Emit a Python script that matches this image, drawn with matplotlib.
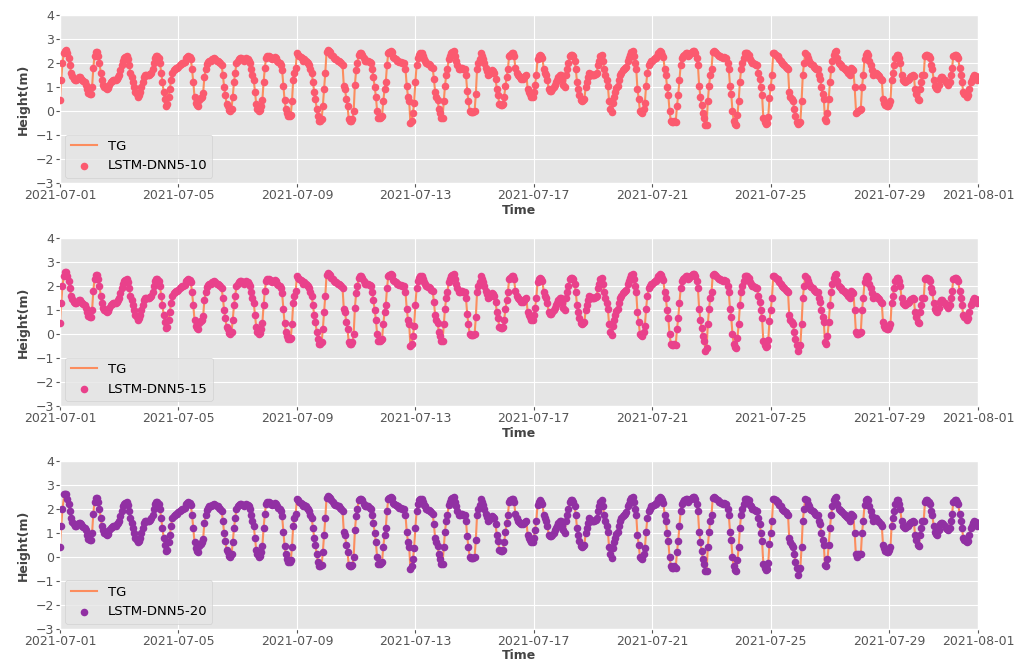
import matplotlib
matplotlib.use("Agg")
import matplotlib.pyplot as plt
import matplotlib.dates as mdates
import pandas as pd

plt.style.use("ggplot")
plt.rcParams["font.family"] = ["DejaVu Sans"]

# Hourly tide-gauge heights (m), 2021-07-01 00:00 .. 2021-07-31 23:00, one row per day
TG = [
    0.4, 1.3, 2.0, 2.4, 2.5, 2.55, 2.4, 2.2, 1.9, 1.6, 1.45, 1.35, 1.3, 1.3, 1.35, 1.4, 1.4, 1.35, 1.3, 1.25, 1.2, 1.1, 0.9, 0.75,
    0.7, 0.7, 1.0, 1.8, 2.3, 2.45, 2.45, 2.3, 2.0, 1.6, 1.3, 1.1, 1.0, 0.95, 0.9, 0.95, 1.1, 1.2, 1.25, 1.3, 1.3, 1.3, 1.35, 1.4,
    1.5, 1.7, 1.9, 2.1, 2.2, 2.25, 2.3, 2.15, 1.9, 1.6, 1.4, 1.2, 1.0, 0.8, 0.7, 0.6, 0.65, 0.8, 1.0, 1.2, 1.4, 1.5, 1.5, 1.5,
    1.5, 1.55, 1.6, 1.75, 2.0, 2.2, 2.3, 2.3, 2.2, 2.0, 1.6, 1.2, 0.8, 0.5, 0.25, 0.3, 0.6, 0.9, 1.3, 1.6, 1.7, 1.75, 1.8, 1.8,
    1.85, 1.9, 1.95, 2.0, 2.0, 2.05, 2.2, 2.25, 2.3, 2.25, 2.15, 1.75, 1.2, 0.6, 0.35, 0.25, 0.2, 0.45, 0.55, 0.6, 0.75, 1.4, 1.75, 1.95,
    2.05, 2.1, 2.1, 2.15, 2.15, 2.2, 2.15, 2.1, 2.1, 2.05, 2.0, 1.9, 1.5, 1.0, 0.65, 0.3, 0.2, 0.05, 0.0, 0.1, 0.6, 1.2, 1.6, 2.0,
    2.1, 2.15, 2.2, 2.2, 2.15, 2.1, 2.15, 2.2, 2.15, 2.1, 2.0, 1.75, 1.5, 1.3, 0.8, 0.3, 0.1, 0.0, 0.05, 0.2, 0.45, 1.2, 1.8, 2.2,
    2.3, 2.3, 2.25, 2.2, 2.15, 2.2, 2.25, 2.2, 2.1, 2.05, 2.0, 1.9, 1.7, 1.05, 0.45, 0.1, -0.1, -0.2, -0.2, -0.15, 0.4, 1.3, 1.6, 1.8,
    2.4, 2.35, 2.3, 2.25, 2.2, 2.1, 2.15, 2.1, 2.05, 2.0, 1.9, 1.75, 1.6, 1.2, 0.8, 0.5, 0.1, -0.2, -0.4, -0.4, -0.35, 0.2, 0.9, 1.6,
    2.45, 2.55, 2.5, 2.45, 2.35, 2.3, 2.2, 2.15, 2.15, 2.1, 2.1, 2.05, 2.0, 1.9, 1.05, 0.9, 0.5, 0.2, -0.35, -0.4, -0.4, -0.35, 0.0, 1.1,
    1.7, 2.0, 2.35, 2.4, 2.4, 2.35, 2.2, 2.1, 2.1, 2.1, 2.1, 2.05, 2.0, 1.75, 1.4, 1.0, 0.6, 0.0, -0.3, -0.3, -0.25, -0.2, 0.4, 0.9,
    1.2, 1.9, 2.4, 2.45, 2.5, 2.45, 2.25, 2.2, 2.15, 2.1, 2.1, 2.05, 2.05, 2.0, 2.0, 2.0, 1.75, 1.05, 0.6, 0.4, -0.5, -0.4, -0.1, 0.35,
    1.2, 1.9, 2.2, 2.35, 2.4, 2.4, 2.3, 2.15, 2.1, 2.0, 1.95, 1.95, 1.9, 1.85, 1.8, 1.35, 0.8, 0.6, 0.45, 0.1, -0.1, -0.3, -0.3, 0.4,
    1.05, 1.5, 1.75, 2.15, 2.3, 2.4, 2.45, 2.5, 2.3, 2.1, 1.9, 1.75, 1.75, 1.8, 1.8, 1.75, 1.75, 1.5, 0.85, 0.4, 0.0, -0.05, -0.05, -0.05,
    0.0, 0.7, 1.75, 2.0, 2.15, 2.4, 2.3, 2.15, 2.0, 1.8, 1.65, 1.5, 1.55, 1.6, 1.7, 1.65, 1.6, 1.35, 0.9, 0.65, 0.3, 0.25, 0.25, 0.3,
    0.6, 1.05, 1.4, 1.75, 2.3, 2.35, 2.4, 2.4, 2.3, 1.8, 1.6, 1.5, 1.45, 1.4, 1.35, 1.35, 1.4, 1.45, 1.5, 0.9, 0.8, 0.7, 0.6, 0.6,
    0.8, 1.1, 1.5, 2.15, 2.3, 2.35, 2.3, 2.2, 1.75, 1.6, 1.5, 1.3, 0.9, 0.85, 0.85, 0.9, 1.0, 1.1, 1.2, 1.3, 1.4, 1.5, 1.5, 1.3,
    1.1, 1.0, 1.5, 1.75, 2.0, 2.3, 2.35, 2.35, 2.3, 2.1, 1.75, 1.2, 0.9, 0.65, 0.45, 0.4, 0.45, 0.5, 1.0, 1.2, 1.4, 1.6, 1.55, 1.5,
    1.5, 1.5, 1.55, 1.6, 1.9, 2.1, 2.3, 2.35, 2.1, 1.75, 1.5, 1.3, 1.05, 0.4, 0.1, -0.05, 0.35, 0.6, 0.8, 0.95, 1.05, 1.3, 1.5, 1.6,
    1.7, 1.75, 1.8, 1.85, 2.1, 2.2, 2.35, 2.45, 2.5, 2.3, 2.0, 1.75, 0.9, 0.5, 0.0, -0.05, -0.1, 0.1, 0.35, 1.05, 1.6, 1.9, 2.0, 2.1,
    2.1, 2.15, 2.2, 2.2, 2.3, 2.4, 2.5, 2.45, 2.35, 2.25, 1.75, 1.5, 1.0, 0.65, 0.0, -0.4, -0.45, -0.45, -0.4, -0.45, 0.2, 0.65, 1.3, 1.9,
    2.2, 2.3, 2.35, 2.4, 2.4, 2.3, 2.35, 2.4, 2.45, 2.5, 2.5, 2.4, 2.2, 1.9, 1.05, 0.6, 0.25, -0.1, -0.3, -0.6, -0.6, 0.4, 1.05, 1.5,
    1.75, 2.45, 2.5, 2.45, 2.4, 2.35, 2.3, 2.3, 2.25, 2.2, 2.25, 2.2, 2.2, 2.0, 1.75, 1.05, 0.7, 0.0, -0.4, -0.55, -0.6, -0.15, 0.4, 1.2,
    1.75, 2.0, 2.2, 2.4, 2.4, 2.4, 2.35, 2.15, 2.1, 2.0, 2.0, 1.95, 1.9, 1.9, 1.6, 1.35, 1.0, 0.65, -0.3, -0.45, -0.55, -0.5, -0.25, 0.55,
    1.0, 1.5, 2.4, 2.4, 2.35, 2.3, 2.3, 2.15, 2.1, 2.0, 1.95, 1.9, 1.85, 1.8, 1.75, 0.8, 0.6, 0.5, 0.4, 0.1, -0.2, -0.45, -0.55, -0.5,
    -0.45, 0.4, 1.5, 2.0, 2.4, 2.35, 2.2, 2.1, 2.0, 1.95, 1.9, 1.85, 1.8, 1.75, 1.75, 1.5, 1.35, 1.0, 0.7, 0.5, -0.35, -0.4, -0.1, 0.5,
    1.2, 1.75, 2.1, 2.35, 2.45, 2.5, 2.2, 2.0, 1.95, 1.9, 1.85, 1.8, 1.75, 1.7, 1.65, 1.6, 1.5, 1.8, 1.75, 1.7, 1.0, 0.1, 0.0, 0.0,
    0.05, 0.1, 1.0, 1.5, 2.15, 2.35, 2.4, 2.35, 2.1, 1.9, 1.7, 1.5, 1.55, 1.6, 1.55, 1.5, 1.45, 1.35, 1.3, 0.5, 0.35, 0.25, 0.2, 0.2,
    0.3, 0.4, 1.3, 1.6, 1.9, 2.2, 2.35, 2.35, 2.2, 2.0, 1.5, 1.3, 1.25, 1.2, 1.25, 1.3, 1.35, 1.4, 1.45, 1.5, 1.45, 0.9, 0.7, 0.5,
    0.45, 0.9, 1.2, 1.5, 1.5, 2.3, 2.35, 2.35, 2.3, 2.2, 1.9, 1.75, 1.3, 1.05, 0.95, 0.9, 1.1, 1.35, 1.4, 1.4, 1.35, 1.3, 1.2, 1.15,
    1.1, 1.2, 1.5, 1.8, 2.3, 2.35, 2.35, 2.3, 2.2, 1.8, 1.5, 1.2, 0.8, 0.7, 0.65, 0.6, 0.65, 0.9, 1.2, 1.3, 1.4, 1.5, 1.45, 1.3,
]

# Model predictions: same hourly grid, with the hours where each model departs from the gauge
PRED_10_CHANGES = {0: 0.45, 86: 0.2, 645: -0.1, 646: -0.05}
PRED_15_CHANGES = {0: 0.45, 4: 2.6, 5: 2.6, 523: -0.7, 598: -0.7}
PRED_20_CHANGES = {0: 0.4, 3: 2.6, 4: 2.6, 5: 2.6, 598: -0.75, 647: 0.1, 648: 0.1}

SERIES_NAMES = ["LSTM-DNN5-10", "LSTM-DNN5-15", "LSTM-DNN5-20"]
SERIES_CHANGES = [PRED_10_CHANGES, PRED_15_CHANGES, PRED_20_CHANGES]
SERIES_COLORS = ["#fb5a6f", "#e9418b", "#9130a3"]
TG_COLOR = "#fc8d5e"

Y_TICKS = [-3, -2, -1, 0, 1, 2, 3, 4]

times = pd.date_range("2021-07-01 00:00", periods=len(TG), freq="h")


def prediction(changes):
    values = list(TG)
    for hour, value in changes.items():
        values[hour] = value
    return values


fig = plt.figure(figsize=(10.24, 6.63), dpi=100)
fig.patch.set_facecolor("white")

left, width = 0.0586, 0.8965
bottoms = [0.7240, 0.3875, 0.0515]
height = 0.2535

for name, changes, color, bottom in zip(SERIES_NAMES, SERIES_CHANGES, SERIES_COLORS, bottoms):
    ax = fig.add_axes([left, bottom, width, height])
    ax.plot(times, TG, color=TG_COLOR, lw=1.5, label="TG", zorder=2)
    ax.scatter(times, prediction(changes), s=30, color=color, label=name, zorder=3,
               linewidths=0)
    ax.set_ylim(-3, 4)
    ax.set_yticks(Y_TICKS)
    ax.set_xlim(pd.Timestamp("2021-07-01"), pd.Timestamp("2021-08-01"))
    ax.xaxis.set_major_locator(mdates.DayLocator(bymonthday=[1, 5, 9, 13, 17, 21, 25, 29]))
    ax.xaxis.set_major_formatter(mdates.DateFormatter("%Y-%m-%d"))
    ax.tick_params(axis="both", labelsize=9, colors="#555555", labelcolor="#555555",
                   pad=1.5, length=3)
    ax.set_xlabel("Time", fontsize=9, fontweight="bold", color="#444444", labelpad=1)
    ax.set_ylabel("Height(m)", fontsize=9, fontweight="bold", color="#444444", labelpad=4)
    leg = ax.legend(loc="lower left", fontsize=9.5, scatterpoints=1, framealpha=0.8,
                    borderaxespad=0.4)
    for t in leg.get_texts():
        t.set_color("black")

fig.savefig("out.png", dpi=100)
